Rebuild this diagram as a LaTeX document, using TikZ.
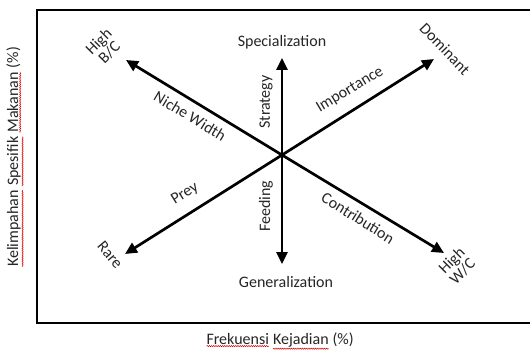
\documentclass[tikz,border=0pt]{standalone}
\usepackage{fontspec}
\setmainfont{Carlito}
\usetikzlibrary{arrows.meta,decorations.pathmorphing}
\newcommand\redwave[1]{\tikz[baseline=(w.base)]{\node[inner sep=0pt,outer sep=0pt,rotate=0](w){#1};\draw[red!85!black,line width=0.5pt,decorate,decoration={snake,amplitude=0.6pt,segment length=2.2pt}]([yshift=-1.8pt]w.south west)--([yshift=-1.8pt]w.south east);}}
\begin{document}
\begin{tikzpicture}[x=1pt,y=-1pt,
  lbl/.style={font=\fontsize{16}{18}\selectfont,inner sep=1pt,text=black!85},
  two/.style={lbl,align=center,font=\fontsize{16}{15}\selectfont},
  arr/.style={line width=2.7pt,-{Triangle[length=12pt,width=11pt]}},
  frame/.style={line width=2.8pt}]
\useasboundingbox (0,0) rectangle (530,350);
\clip (0,0) rectangle (530,350);
\fill[white] (0,0) rectangle (530,350);
\draw[frame] (37,10) rectangle (560,323);
% arrow ends
\coordinate (c) at (282,155);
\coordinate (n) at (282,58);
\coordinate (s) at (282,264);
\coordinate (nw) at (126,60);
\coordinate (ne) at (434,59);
\coordinate (sw) at (125,254);
\coordinate (se) at (444,253);
\draw[arr] (c) -- (n);
\draw[arr] (c) -- (s);
\draw[arr] (c) -- (nw);
\draw[arr] (c) -- (ne);
\draw[arr] (c) -- (sw);
\draw[arr] (c) -- (se);
% labels
\node[lbl] (spec) at (282,42) {Specialization};
\node[lbl] (gen) at (286,282) {Generalization};
\node[lbl,rotate=90] (strat) at (266,102) {Strategy};
\node[lbl,rotate=90] (feed) at (266,206) {Feeding};
\node[lbl,rotate=-31] (niche) at (190,116) {Niche Width};
\node[lbl,rotate=31] (imp) at (350,90) {Importance};
\node[lbl,rotate=32] (prey) at (185,194) {Prey};
\node[lbl,rotate=-32] (contr) at (358,218) {Contribution};
\node[two,rotate=45] (hbc) at (104,47) {High\\B/C};
\node[lbl,rotate=-46] (dom) at (445,49) {Dominant};
\node[lbl,rotate=-50] (rare) at (110,255) {Rare};
\node[two,rotate=45] (hwc) at (457,266) {High\\W/C};
\node[lbl,rotate=90] (ylab) at (15,157) {\redwave{Kelimpahan} \redwave{Spesifik} \redwave{Makanan} (\%)};
\node[lbl] (xlab) at (280,341) {\redwave{Frekuensi} \redwave{Kejadian} (\%)};
\end{tikzpicture}
\end{document}
